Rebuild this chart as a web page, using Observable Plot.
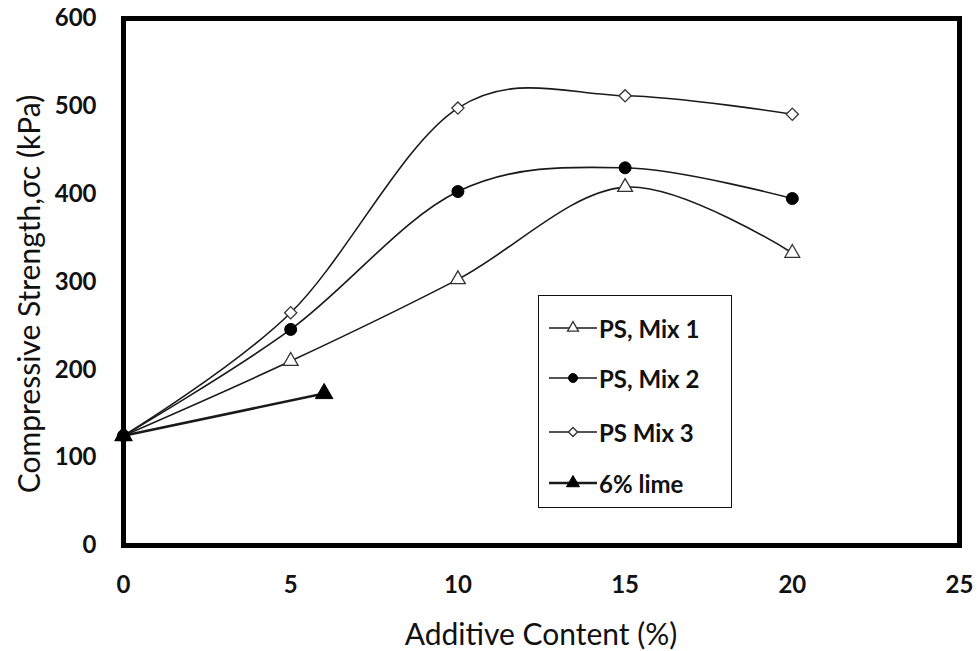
<!DOCTYPE html>
<html><head><meta charset="utf-8">
<script src="https://cdn.jsdelivr.net/npm/d3@7"></script>
<script src="https://cdn.jsdelivr.net/npm/@observablehq/plot@0.6"></script>
<style>
body{margin:0;background:#fff;}
#wrap{position:relative;width:977px;height:651px;font-family:Lato,"Open Sans",sans-serif;color:#111;}
#wrap svg text{font-weight:bold;}
.ttl{position:absolute;font-size:30px;font-weight:normal;white-space:nowrap;}
#legend{position:absolute;left:538px;top:295px;width:194px;height:213px;box-sizing:border-box;border:1.5px solid #111;background:#fff;}
.item{position:absolute;left:10px;display:flex;align-items:center;font-size:24px;font-weight:bold;}
</style></head><body><div id="wrap"></div>
<script>
const additive = [0, 5, 10, 15, 20];
const mix1 = [125, 210, 303, 408, 333];
const mix2 = [125, 246, 403, 430, 395];
const mix3 = [125, 265, 498, 512, 491];
const limeX = [0, 6];
const limeY = [125, 173];
const seriesNames = ["PS, Mix 1", "PS, Mix 2", "PS Mix 3", "6% lime"];
const xTicks = [0, 5, 10, 15, 20, 25];
const yTicks = [0, 100, 200, 300, 400, 500, 600];
const xTitle = "Additive Content (%)";
const yTitle = "Compressive Strength,σc (kPa)";

const rows = (xs, ys, s) => xs.map((x, i) => ({x, y: ys[i], s}));
const d1 = rows(additive, mix1, seriesNames[0]);
const d2 = rows(additive, mix2, seriesNames[1]);
const d3s = rows(additive, mix3, seriesNames[2]);
const d4 = rows(limeX, limeY, seriesNames[3]);

const styles = [
  {symbol: "triangle", fill: "white", stroke: "#333", r: 5.5, sw: 1.3, lw: 1.6},
  {symbol: "circle", fill: "black", stroke: "black", r: 6, sw: 1, lw: 1.6},
  {symbol: "diamond2", fill: "white", stroke: "#333", r: 5.5, sw: 1.3, lw: 1.6},
  {symbol: "triangle", fill: "black", stroke: "black", r: 6.5, sw: 1, lw: 2.6}
];
const data = [d1, d2, d3s, d4];

const marks = [Plot.frame({stroke: "#000", strokeWidth: 5})];
data.forEach((d, i) => {
  marks.push(Plot.line(d, {x: "x", y: "y", curve: i < 3 ? "cardinal" : "linear", stroke: "#1a1a1a", strokeWidth: styles[i].lw}));
});
[0, 2, 3, 1].forEach((i) => {
  const st = styles[i];
  marks.push(Plot.dot(data[i], {x: "x", y: "y", symbol: () => st.symbol, r: st.r, fill: st.fill, stroke: st.stroke, strokeWidth: st.sw}));
});
marks.push(Plot.axisX({ticks: xTicks, tickSize: 0, tickPadding: 30, fontSize: 24, label: null}));
marks.push(Plot.axisY({ticks: yTicks, tickSize: 0, tickPadding: 27, fontSize: 24, label: null}));

const chart = Plot.plot({
  width: 977, height: 651,
  marginLeft: 123, marginRight: 18, marginTop: 18, marginBottom: 106,
  x: {domain: [0, 25]},
  y: {domain: [0, 600]},
  symbol: {type: "identity"},
  style: {fontFamily: "Lato, 'Open Sans', sans-serif", background: "white", color: "#111", overflow: "visible"},
  marks
});
const wrap = document.getElementById("wrap");
wrap.appendChild(chart);

const xt = document.createElement("div");
xt.className = "ttl"; xt.textContent = xTitle;
xt.style.left = "541px"; xt.style.top = "633px"; xt.style.transform = "translate(-50%,-50%)";
wrap.appendChild(xt);
const yt = document.createElement("div");
yt.className = "ttl"; yt.textContent = yTitle;
yt.style.left = "28px"; yt.style.top = "294px"; yt.style.transform = "translate(-50%,-50%) rotate(-90deg)";
wrap.appendChild(yt);

const symType = {triangle: d3.symbolTriangle, circle: d3.symbolCircle, diamond2: d3.symbolDiamond2};
const leg = document.createElement("div");
leg.id = "legend";
const tops = [32, 82, 136, 187];
seriesNames.forEach((name, i) => {
  const st = styles[i];
  const it = document.createElement("div");
  it.className = "item"; it.style.top = (tops[i] - 15) + "px"; it.style.height = "30px";
  const sym = d3.symbol(symType[st.symbol], Math.PI * st.r * st.r * 0.55)();
  it.innerHTML = `<svg width="48" height="30" style="margin-right:2px"><line x1="0" x2="48" y1="15" y2="15" stroke="#1a1a1a" stroke-width="${st.lw}"/><path transform="translate(24,15)" d="${sym}" fill="${st.fill}" stroke="${st.stroke}" stroke-width="${st.sw}"/></svg><span>${name}</span>`;
  leg.appendChild(it);
});
wrap.appendChild(leg);
</script></body></html>
